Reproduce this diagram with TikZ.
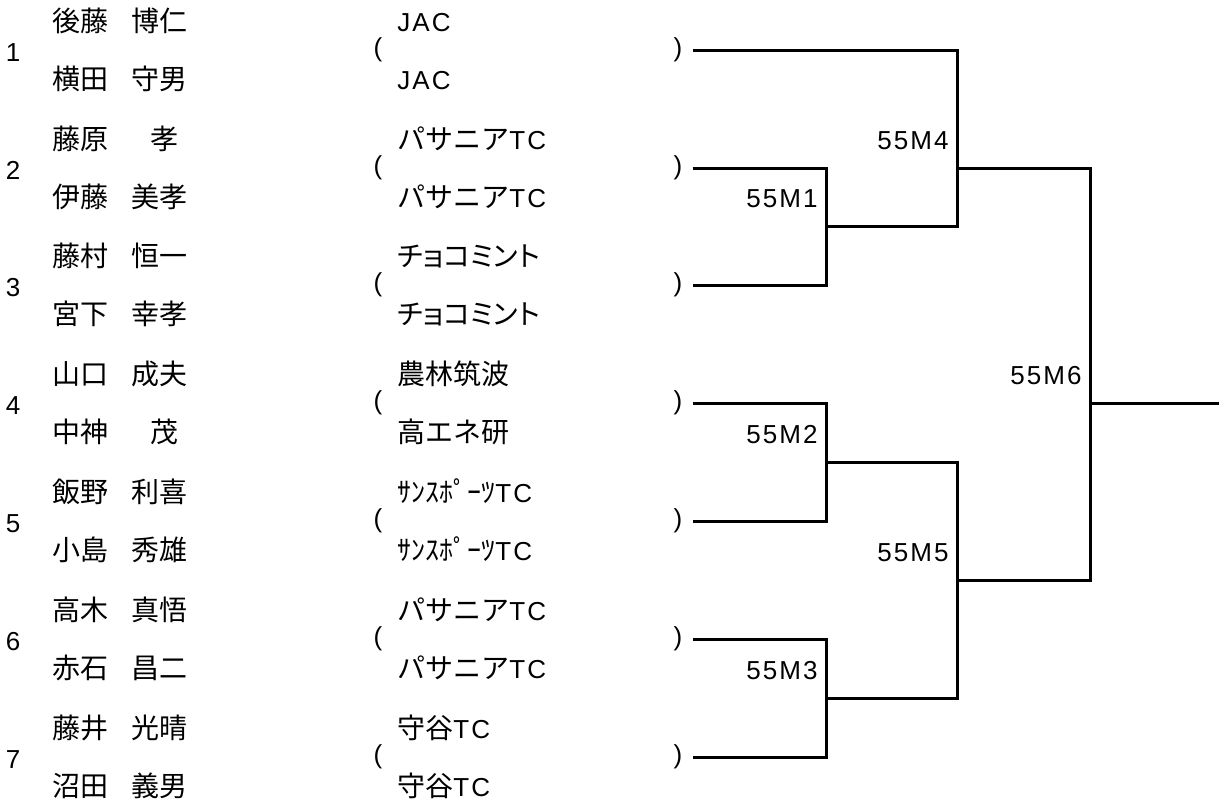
\documentclass[tikz,border=0pt]{standalone}
\usepackage{fontspec}
\setmainfont[LetterSpace=8]{Liberation Sans}
\newfontfamily\jp[Scale=1.077]{Noto Sans CJK JP}
\newfontfamily\jpk[Scale=1.077,RawFeature=+palt]{Noto Sans CJK JP}

\begin{document}
\begin{tikzpicture}[x=0.5pt, y=-0.5pt,
    font=\fontsize{13}{15}\selectfont,
    txt/.style={inner sep=0pt, anchor=base west},
    num/.style={inner sep=0pt, anchor=base},
    paren/.style={inner ysep=0pt, inner xsep=5pt},
    mlabel/.style={inner sep=0pt, anchor=base east},
    bracket/.style={line width=1.5pt}]

    \useasboundingbox (0,0) rectangle (1219,804);

% Entry numbers and parentheses
    \foreach \k/\y in {1/50,2/168,3/285,4/403,5/521,6/639,7/757} {
        \node[num] (n\k) at (13,\y+11) {\k};
        \node[paren] (l\k) at (378,\y) {(};
        \node[paren] (r\k) at (678,\y) {)};
    }

% Players
    % Entry 1
    \node[txt] (f1a) at (52,31) {\jp 後藤};
    \node[txt] (g1a) at (131,31) {\jp 博仁};
    \node[txt] (f1b) at (52,89) {\jp 横田};
    \node[txt] (g1b) at (131,89) {\jp 守男};
    % Entry 2
    \node[txt] (f2a) at (52,149) {\jp 藤原};
    \node[txt] (g2a) at (150,149) {\jp 孝};
    \node[txt] (f2b) at (52,207) {\jp 伊藤};
    \node[txt] (g2b) at (131,207) {\jp 美孝};
    % Entry 3
    \node[txt] (f3a) at (52,266) {\jp 藤村};
    \node[txt] (g3a) at (131,266) {\jp 恒一};
    \node[txt] (f3b) at (52,324) {\jp 宮下};
    \node[txt] (g3b) at (131,324) {\jp 幸孝};
    % Entry 4
    \node[txt] (f4a) at (52,384) {\jp 山口};
    \node[txt] (g4a) at (131,384) {\jp 成夫};
    \node[txt] (f4b) at (52,442) {\jp 中神};
    \node[txt] (g4b) at (150,442) {\jp 茂};
    % Entry 5
    \node[txt] (f5a) at (52,502) {\jp 飯野};
    \node[txt] (g5a) at (131,502) {\jp 利喜};
    \node[txt] (f5b) at (52,560) {\jp 小島};
    \node[txt] (g5b) at (131,560) {\jp 秀雄};
    % Entry 6
    \node[txt] (f6a) at (52,620) {\jp 高木};
    \node[txt] (g6a) at (131,620) {\jp 真悟};
    \node[txt] (f6b) at (52,678) {\jp 赤石};
    \node[txt] (g6b) at (131,678) {\jp 昌二};
    % Entry 7
    \node[txt] (f7a) at (52,738) {\jp 藤井};
    \node[txt] (g7a) at (131,738) {\jp 光晴};
    \node[txt] (f7b) at (52,796) {\jp 沼田};
    \node[txt] (g7b) at (131,796) {\jp 義男};

% Clubs
    \node[txt] (c1a) at (397,31) {JAC};
    \node[txt] (c1b) at (397,89) {JAC};
    \node[txt] (c2a) at (397,149) {{\jp パサニア}TC};
    \node[txt] (c2b) at (397,207) {{\jp パサニア}TC};
    \node[txt] (c3a) at (397,266) {\jpk チョコミント};
    \node[txt] (c3b) at (397,324) {\jpk チョコミント};
    \node[txt] (c4a) at (397,384) {\jp 農林筑波};
    \node[txt] (c4b) at (397,442) {\jp 高エネ研};
    \node[txt] (c5a) at (397,502) {{\jp ｻﾝｽﾎﾟｰﾂ}TC};
    \node[txt] (c5b) at (397,560) {{\jp ｻﾝｽﾎﾟｰﾂ}TC};
    \node[txt] (c6a) at (397,620) {{\jp パサニア}TC};
    \node[txt] (c6b) at (397,678) {{\jp パサニア}TC};
    \node[txt] (c7a) at (397,738) {{\jp 守谷}TC};
    \node[txt] (c7b) at (397,796) {{\jp 守谷}TC};

% Matches
    \coordinate (m1) at (826,226);
    \coordinate (m2) at (826,462);
    \coordinate (m3) at (826,698);
    \coordinate (m4) at (957,168);
    \coordinate (m5) at (957,580);
    \coordinate (m6) at (1090,403);
    \coordinate (win) at (1219,403);

    % First round
    \draw[bracket] (r2.east) -| (m1) |- (r3.east);
    \draw[bracket] (r4.east) -| (m2) |- (r5.east);
    \draw[bracket] (r6.east) -| (m3) |- (r7.east);
    % Second round
    \draw[bracket] (r1.east) -| (m4) |- (m1);
    \draw[bracket] (m2) -| (m5) |- (m3);
    % Final
    \draw[bracket] (m4) -| (m6) |- (m5);
    \draw[bracket] (m6) -- (win);

    % Match labels
    \node[mlabel] (lab1) at ([shift={(-8,-19)}]m1) {55M1};
    \node[mlabel] (lab2) at ([shift={(-8,-19)}]m2) {55M2};
    \node[mlabel] (lab3) at ([shift={(-8,-19)}]m3) {55M3};
    \node[mlabel] (lab4) at ([shift={(-8,-19)}]m4) {55M4};
    \node[mlabel] (lab5) at ([shift={(-8,-19)}]m5) {55M5};
    \node[mlabel] (lab6) at ([shift={(-8,-19)}]m6) {55M6};

\end{tikzpicture}
\end{document}
